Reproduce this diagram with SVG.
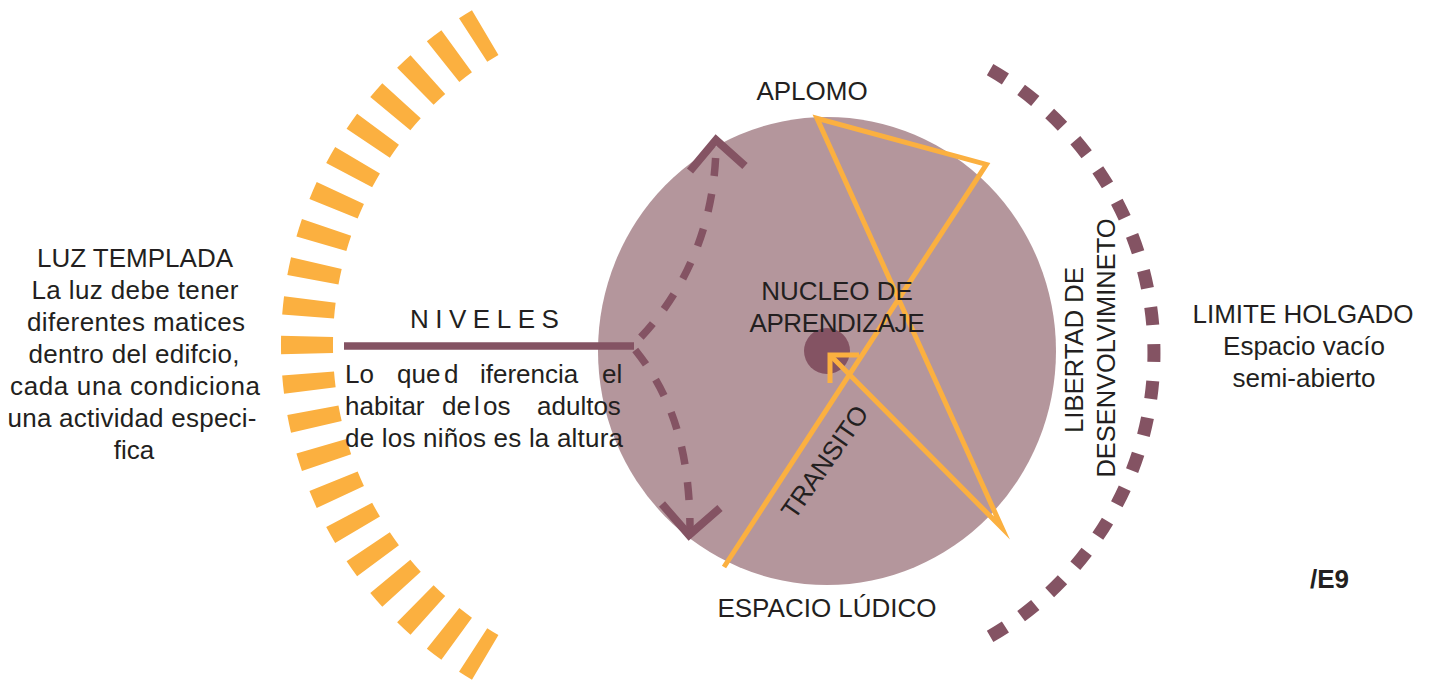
<svg xmlns="http://www.w3.org/2000/svg" width="1435" height="681" viewBox="0 0 1435 681">
<style>
  .t { font-family: "Liberation Sans", Arial, sans-serif; font-size: 26px; fill: #231f20; }
  .mid { text-anchor: middle; }
  .bold { font-weight: bold; }
  .orange { fill: none; stroke: #fbb040; stroke-width: 5; stroke-linejoin: miter; stroke-miterlimit: 10; }
  .plum { fill: none; stroke: #845363; }
</style>
<rect x="0" y="0" width="1435" height="681" fill="#ffffff"/>

<g id="luz-templada">
  <path d="M485.2,657.45 A363,363 0 0 1 485.2,32.55" fill="none" stroke="#fbb040" stroke-width="52" pathLength="118.8" stroke-dasharray="2.7 3.15" stroke-dashoffset="0.45"/>
  <text class="t mid" x="135" y="267" textLength="196">LUZ TEMPLADA</text>
  <text class="t mid" x="135" y="299" textLength="207">La luz debe tener</text>
  <text class="t mid" x="136" y="331" textLength="218">diferentes matices</text>
  <text class="t mid" x="134" y="363" textLength="211">dentro del edifcio,</text>
  <text class="t mid" x="135" y="395" textLength="250">cada una condiciona</text>
  <text class="t mid" x="132" y="427" textLength="249">una actividad especi-</text>
  <text class="t mid" x="134" y="459">fica</text>
</g>

<g id="nucleo">
  <ellipse cx="827" cy="351" rx="229" ry="234" fill="#b4969c"/>
  <circle cx="827" cy="351" r="23" fill="#845363"/>
</g>

<g id="libertad">
  <path d="M990.1,69.6 A327,327 0 0 1 990.1,636.4" class="plum" stroke-width="13" pathLength="120.15" stroke-dasharray="3.15 3.35"/>
</g>

<g id="connectors">
  <path d="M716,142 C716,230 680,300 632,346 C660,380 690,430 690,530" class="plum" stroke-width="7.5" stroke-dasharray="18 18" stroke-dashoffset="-16"/>
  <path d="M690,171 L716,140 L745,166" class="plum" stroke-width="8"/>
  <path d="M662,504 L689,535 L720,508" class="plum" stroke-width="8"/>
  <path d="M724,567 L986.4,164.4 L817,118.4 L1002,528 L830,355" class="orange"/>
  <path d="M859,355 L830,355 L830,383" class="orange"/>
</g>

<g id="niveles">
  <line x1="344" y1="346" x2="634" y2="346" stroke="#845363" stroke-width="7.5"/>
  <text class="t" x="410" y="328" letter-spacing="6.5">NIVELES</text>
  <text class="t" y="383"><tspan x="345">Lo</tspan><tspan x="397">que</tspan><tspan x="444">d</tspan><tspan x="480">iferencia</tspan><tspan x="602">el</tspan></text>
  <text class="t" y="415"><tspan x="345">habitar</tspan><tspan x="442">de</tspan><tspan x="474">l</tspan><tspan x="483">os</tspan><tspan x="537">adultos</tspan></text>
  <text class="t" x="345" y="447" textLength="278">de los niños es la altura</text>
</g>

<g id="nucleo-label">
  <text class="t mid" x="837" y="300">NUCLEO DE</text>
  <text class="t mid" x="837" y="332" textLength="175">APRENDIZAJE</text>
</g>

<g id="aplomo">
  <text class="t mid" x="812" y="100">APLOMO</text>
</g>

<g id="espacio-ludico">
  <text class="t mid" x="827" y="617">ESPACIO LÚDICO</text>
</g>

<g id="transito">
  <text class="t mid" transform="translate(832,467) rotate(-55)">TRANSITO</text>
</g>

<g id="libertad-label">
  <text class="t mid" transform="translate(1083,350) rotate(-90)" textLength="166">LIBERTAD DE</text>
  <text class="t mid" transform="translate(1115,348) rotate(-90)" textLength="259" lengthAdjust="spacingAndGlyphs">DESENVOLVIMINETO</text>
</g>

<g id="limite-holgado">
  <text class="t mid" x="1303" y="323">LIMITE HOLGADO</text>
  <text class="t mid" x="1304" y="355">Espacio vacío</text>
  <text class="t mid" x="1304" y="387">semi-abierto</text>
</g>

<g id="e9">
  <text class="t bold" x="1310" y="588">/E9</text>
</g>
</svg>
